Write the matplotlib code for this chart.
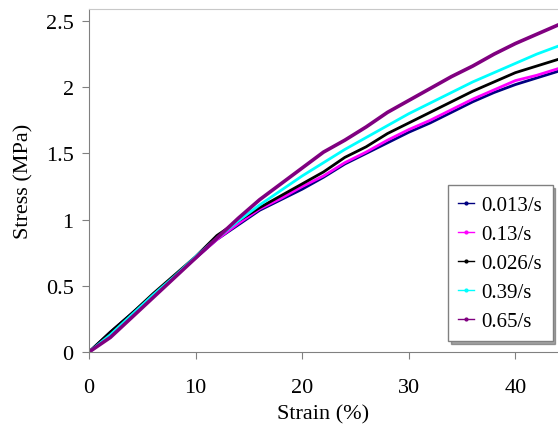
import matplotlib.pyplot as plt
from matplotlib.lines import Line2D

plt.rcParams['font.family'] = ['Liberation Serif', 'DejaVu Serif']

# strain (%) and stress (MPa)
strain = [0, 2, 4, 6, 8, 10, 12, 14, 16, 18, 20, 22, 24, 26, 28, 30, 32, 34, 36, 38, 40, 42, 44]

s_0013 = [0, 0.15, 0.29, 0.43, 0.57, 0.71, 0.85, 0.96, 1.07, 1.15, 1.23, 1.32, 1.42, 1.50, 1.58, 1.66,
          1.73, 1.81, 1.89, 1.96, 2.02, 2.07, 2.12]
s_013 = [0, 0.12, 0.27, 0.42, 0.57, 0.71, 0.85, 0.97, 1.08, 1.16, 1.25, 1.33, 1.43, 1.51, 1.60, 1.68,
         1.75, 1.83, 1.91, 1.98, 2.05, 2.09, 2.14]
s_0026 = [0, 0.15, 0.29, 0.44, 0.58, 0.72, 0.88, 0.99, 1.09, 1.18, 1.27, 1.36, 1.47, 1.55, 1.65, 1.73,
          1.81, 1.89, 1.97, 2.04, 2.11, 2.16, 2.21]
s_039 = [0, 0.13, 0.28, 0.43, 0.57, 0.72, 0.86, 0.99, 1.11, 1.22, 1.33, 1.43, 1.53, 1.62, 1.71, 1.80,
         1.88, 1.96, 2.04, 2.11, 2.18, 2.25, 2.31]
s_065 = [0, 0.11, 0.26, 0.41, 0.56, 0.71, 0.86, 1.01, 1.15, 1.27, 1.39, 1.51, 1.60, 1.70, 1.81, 1.90,
         1.99, 2.08, 2.16, 2.25, 2.33, 2.40, 2.47]

labels = ['0.013/s', '0.13/s', '0.026/s', '0.39/s', '0.65/s']
colors = ['#000080', '#ff00ff', '#000000', '#00ffff', '#800080']
series = [s_0013, s_013, s_0026, s_039, s_065]

fig = plt.figure(figsize=(5.58, 4.27), dpi=100)
ax = fig.add_axes([0.1595, 0.1733, 0.8405, 0.803])

for y, c in zip(series, colors):
    lw = 2.6 if c == '#800080' else 2.0
    ax.plot(strain, y, color=c, lw=lw)

ax.set_xlim(0, 44)
ax.set_ylim(0, 2.59)
ax.set_xticks([0, 10, 20, 30, 40])
ax.set_yticks([0, 0.5, 1, 1.5, 2, 2.5])
ax.set_yticklabels(['0', '0.5', '1', '1.5', '2', '2.5'])
ax.tick_params(direction='out', length=5, color='#808080', labelsize=16, pad=6)
ax.tick_params(axis='x', pad=14)

for s in ['left', 'bottom']:
    ax.spines[s].set_color('#808080')
ax.spines['top'].set_color('#c8c8c8')
ax.spines['right'].set_visible(False)

ax.set_xlabel('Strain (%)', fontsize=16, labelpad=5)
ax.set_ylabel('Stress (MPa)', fontsize=16, labelpad=9)

handles = [Line2D([], [], color=c, lw=1, marker='o', ms=2) for c in colors]
leg = fig.legend(handles, labels, loc='upper left', bbox_to_anchor=(448 / 558, 1 - 186 / 427),
                 fontsize=15, frameon=True, fancybox=False, shadow=True, handlelength=0.75,
                 handletextpad=0.35, borderpad=0.5, labelspacing=0.45, borderaxespad=0)
leg.get_frame().set_edgecolor('#808080')
leg.get_frame().set_linewidth(1)

fig.savefig('out.png', dpi=100)
